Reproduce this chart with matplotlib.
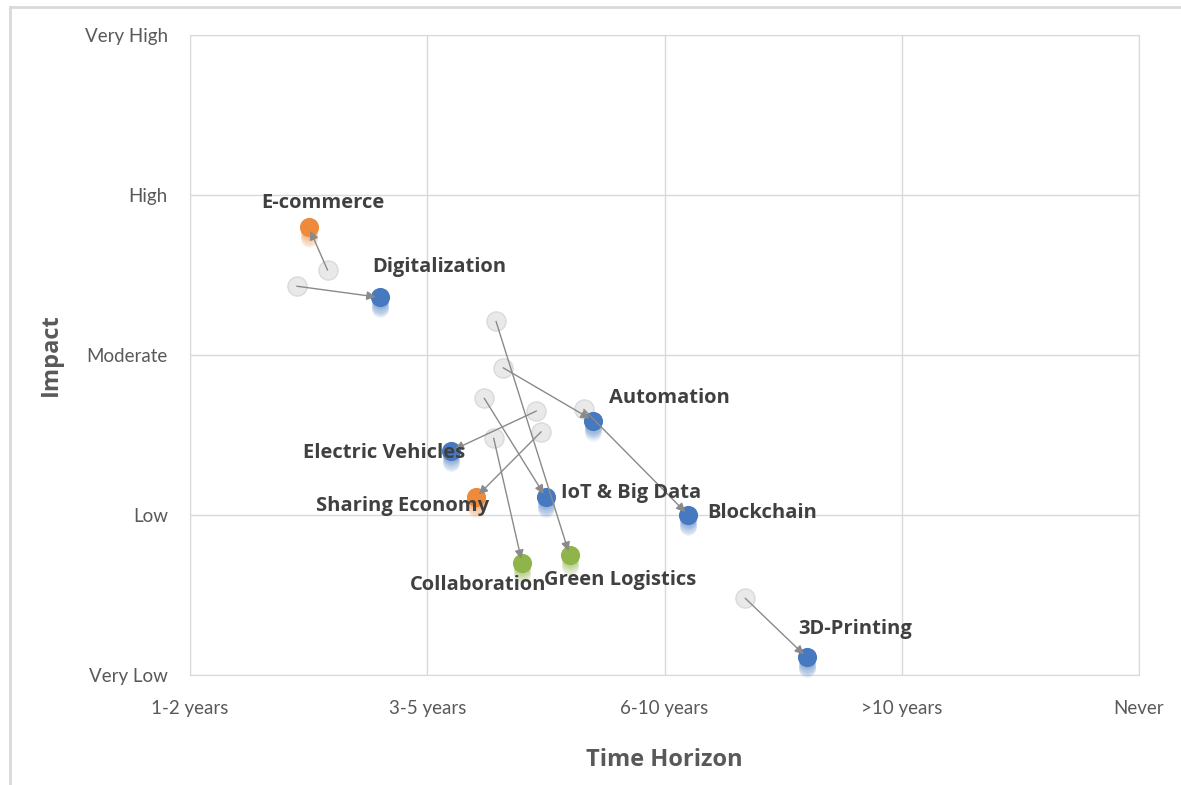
import numpy as np
import matplotlib.pyplot as plt
from matplotlib.lines import Line2D

# categories
time_labels = ["1-2 years", "3-5 years", "6-10 years", ">10 years", "Never"]
impact_labels = ["Very Low", "Low", "Moderate", "High", "Very High"]

# trends: previous position (gray) -> current position (coloured)
names = ["E-commerce", "Digitalization", "Automation", "Blockchain", "IoT & Big Data",
         "Green Logistics", "Collaboration", "Electric Vehicles", "Sharing Economy", "3D-Printing"]
time_prev = [0.58, 0.45, 1.32, 1.66, 1.24, 1.29, 1.28, 1.46, 1.48, 2.34]
impact_prev = [3.53, 3.43, 2.92, 2.66, 2.73, 3.21, 2.48, 2.65, 2.52, 1.48]
time_now = [0.50, 0.80, 1.70, 2.10, 1.50, 1.60, 1.40, 1.10, 1.205, 2.60]
impact_now = [3.80, 3.36, 2.59, 2.00, 2.11, 1.75, 1.70, 2.40, 2.11, 1.11]
group = ["orange", "blue", "blue", "blue", "blue", "green", "green", "blue", "orange", "blue"]

colors = {"blue": "#4679c0", "orange": "#ee8a3a", "green": "#8fb449"}
# label offsets in pixels relative to the current point
label_off = [(14, 24), (60, 30), (76, 23), (74, 2), (85, 4),
             (51, -25), (-44, -22), (-67, -2), (-73, -9), (48, 28)]

plt.rcParams["font.family"] = ["Lato", "DejaVu Sans"]

fig = plt.figure(figsize=(11.81, 7.85), dpi=100)
ax = fig.add_axes([190 / 1181, 1 - 675 / 785, 949 / 1181, 640 / 785])

ax.set_xlim(0, 4)
ax.set_ylim(1, 5)
ax.set_xticks(range(5))
ax.set_xticklabels(time_labels)
ax.set_yticks(range(1, 6))
ax.set_yticklabels(impact_labels)
ax.tick_params(length=0, labelsize=13.5, labelcolor="#595959")
ax.tick_params(axis="x", pad=18)
ax.tick_params(axis="y", pad=16)
ax.grid(True, color="#d9d9d9", lw=1)
ax.set_axisbelow(True)
for s in ax.spines.values():
    s.set_color("#d9d9d9")

ax.set_xlabel("Time Horizon", fontsize=17, fontweight="bold", color="#595959",
              family=["Open Sans", "DejaVu Sans"], labelpad=22)
ax.set_ylabel("Impact", fontsize=17, fontweight="bold", color="#595959",
              family=["Open Sans", "DejaVu Sans"], labelpad=16)

# previous positions
ax.scatter(time_prev, impact_prev, s=190, color="#e6e6e6", edgecolor="#d6d6d6",
           lw=1, alpha=0.85, zorder=3, clip_on=False)

# current positions with a soft shadow underneath
for x, y, g in zip(time_now, impact_now, group):
    c = colors[g]
    for k in np.linspace(0.01, 0.075, 10):
        ax.scatter([x], [y - k], s=150, color=c, alpha=0.08, lw=0, zorder=3, clip_on=False)
    ax.scatter([x], [y], s=190, color=c, lw=0, zorder=4, clip_on=False)

# arrows
for x0, y0, x1, y1 in zip(time_prev, impact_prev, time_now, impact_now):
    ax.annotate("", xy=(x1, y1), xytext=(x0, y0),
                arrowprops=dict(arrowstyle="-|>", color="#8a8a8a", lw=1,
                                shrinkA=0, shrinkB=3, mutation_scale=13),
                zorder=5)

# labels
for n, x, y, off in zip(names, time_now, impact_now, label_off):
    ax.annotate(n, xy=(x, y), xytext=off, textcoords="offset pixels",
                ha="center", va="center", fontsize=14.5, fontweight="bold",
                color="#404040", family=["Open Sans", "DejaVu Sans"], zorder=6)

# outer chart frame (top and left visible)
fig.add_artist(Line2D([10 / 1181, 1], [1 - 7 / 785, 1 - 7 / 785], color="#d9d9d9", lw=2))
fig.add_artist(Line2D([10 / 1181, 10 / 1181], [0, 1 - 7 / 785], color="#d9d9d9", lw=2))

fig.savefig("out.png", dpi=100)
